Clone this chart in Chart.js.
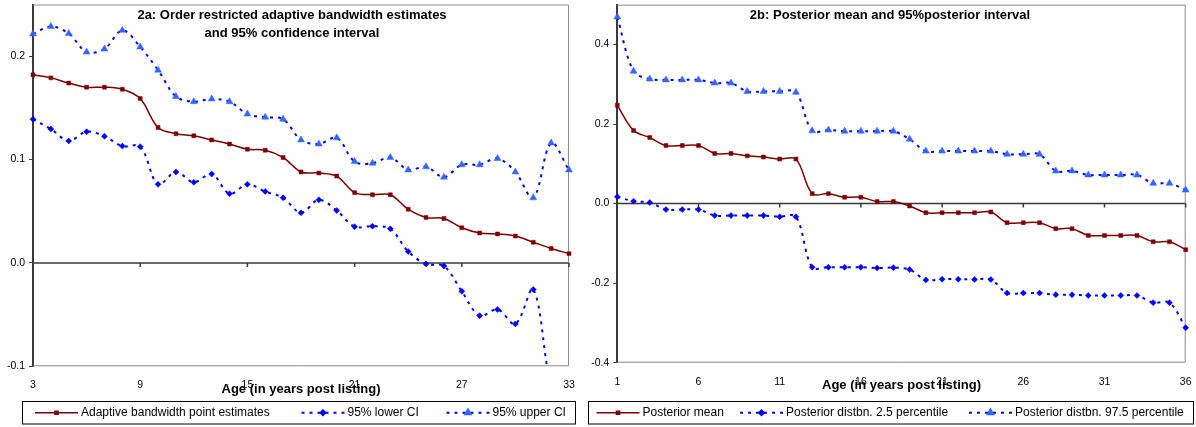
<!DOCTYPE html>
<html lang="pt">
<head>
<meta charset="utf-8">
<title>Figura 2</title>
<script src="https://cdn.jsdelivr.net/npm/chart.js@4.4.1/dist/chart.umd.min.js"></script>
<style>
  body { margin: 0; background: #fff; }
  .painel { position: absolute; top: 0; height: 427px; }
  #painelA { left: 0; width: 585px; }
  #painelB { left: 585px; width: 611px; }
</style>
</head>
<body>
<div class="painel" id="painelA"><canvas id="grafico2a"></canvas></div>
<div class="painel" id="painelB"><canvas id="grafico2b"></canvas></div>
<script>
// Dados (painel 2a)
const idades2a = [3, 4, 5, 6, 7, 8, 9, 10, 11, 12, 13, 14, 15, 16, 17, 18, 19, 20, 21, 22, 23, 24, 25, 26, 27, 28, 29, 30, 31, 32, 33];
const estimativas2a = [0.182, 0.179, 0.174, 0.170, 0.170, 0.168, 0.159, 0.131, 0.125, 0.123, 0.119, 0.115, 0.110, 0.109, 0.102, 0.088, 0.087, 0.084, 0.068, 0.066, 0.066, 0.052, 0.044, 0.043, 0.034, 0.029, 0.028, 0.026, 0.020, 0.014, 0.009];
const ciInferior2a = [0.139, 0.1295, 0.118, 0.127, 0.1225, 0.113, 0.1125, 0.076, 0.088, 0.078, 0.086, 0.067, 0.076, 0.069, 0.063, 0.0485, 0.061, 0.0507, 0.035, 0.0356, 0.033, 0.011, -0.001, -0.003, -0.0275, -0.051, -0.045, -0.059, -0.0256, -0.12, -0.16];
const ciSuperior2a = [0.2215, 0.2286, 0.222, 0.204, 0.207, 0.225, 0.209, 0.1865, 0.161, 0.156, 0.1587, 0.156, 0.144, 0.141, 0.139, 0.119, 0.115, 0.121, 0.098, 0.0965, 0.102, 0.090, 0.093, 0.083, 0.095, 0.095, 0.101, 0.088, 0.063, 0.116, 0.090];
const marcasX2a = [3, 9, 15, 21, 27, 33];

// Dados (painel 2b)
const idades2b = [1, 2, 3, 4, 5, 6, 7, 8, 9, 10, 11, 12, 13, 14, 15, 16, 17, 18, 19, 20, 21, 22, 23, 24, 25, 26, 27, 28, 29, 30, 31, 32, 33, 34, 35, 36];
const mediaPosterior = [0.247, 0.184, 0.166, 0.146, 0.146, 0.146, 0.126, 0.126, 0.120, 0.117, 0.112, 0.112, 0.025, 0.025, 0.016, 0.016, 0.005, 0.005, -0.006, -0.023, -0.023, -0.023, -0.023, -0.021, -0.048, -0.048, -0.048, -0.063, -0.063, -0.080, -0.080, -0.080, -0.080, -0.096, -0.096, -0.116];
const percentil2_5 = [0.017, 0.006, 0.0025, -0.015, -0.015, -0.015, -0.030, -0.030, -0.030, -0.030, -0.033, -0.033, -0.160, -0.160, -0.160, -0.160, -0.162, -0.161, -0.166, -0.192, -0.190, -0.190, -0.191, -0.191, -0.225, -0.225, -0.225, -0.229, -0.229, -0.231, -0.231, -0.231, -0.231, -0.249, -0.249, -0.312];
const percentil97_5 = [0.469, 0.333, 0.313, 0.311, 0.311, 0.311, 0.303, 0.303, 0.282, 0.282, 0.282, 0.280, 0.183, 0.185, 0.182, 0.182, 0.182, 0.182, 0.162, 0.132, 0.132, 0.132, 0.132, 0.132, 0.124, 0.124, 0.124, 0.082, 0.082, 0.072, 0.072, 0.072, 0.072, 0.051, 0.051, 0.034];
const marcasX2b = [1, 6, 11, 16, 21, 26, 31, 36];

const fonte = "'Liberation Sans', Arial, sans-serif";
Chart.defaults.font.family = fonte;
Chart.defaults.color = "#000";

// Moldura, linha do zero e marcas sobre ela
const moldura = {
  id: "moldura",
  beforeDatasetsDraw(chart, args, opts) {
    const { ctx, chartArea: a, scales: { x, y } } = chart;
    ctx.save();
    ctx.strokeStyle = "#8c8c8c";
    ctx.lineWidth = 1;
    ctx.beginPath();
    ctx.moveTo(a.left, a.top + 0.5);
    ctx.lineTo(a.right - 0.5, a.top + 0.5);
    ctx.lineTo(a.right - 0.5, a.bottom - 0.5);
    ctx.lineTo(a.left, a.bottom - 0.5);
    ctx.stroke();

    const y0 = y.getPixelForValue(0);
    ctx.strokeStyle = "#3a3a3a";
    ctx.lineWidth = 1.5;
    ctx.beginPath();
    ctx.moveTo(a.left, y0);
    ctx.lineTo(a.right, y0);
    chart.data.labels.forEach(function (lab, i) {
      if (i > 0 && opts.marcas.includes(lab)) {
        const px = x.getPixelForValue(i);
        ctx.moveTo(px, y0);
        ctx.lineTo(px, y0 + 4);
      }
    });
    ctx.stroke();
    ctx.restore();
  },
  afterDraw(chart, args, opts) {
    const { ctx } = chart;
    ctx.save();
    // titulo dentro da area do grafico
    ctx.font = "bold 13px " + fonte;
    ctx.fillStyle = "#000";
    ctx.textAlign = "center";
    ctx.textBaseline = "middle";
    opts.titulo.forEach(function (linha, i) {
      ctx.fillText(linha, opts.tituloX, 15 + i * 18);
    });

    // legenda em caixa
    const c = opts.caixa;
    ctx.strokeStyle = "#000";
    ctx.lineWidth = 1;
    ctx.strokeRect(c[0] + 0.5, c[1] + 0.5, c[2], c[3]);
    const ly = c[1] + c[3] / 2 + 0.5;
    ctx.font = "12px " + fonte;
    ctx.textAlign = "left";
    chart.data.datasets.forEach(function (ds, i) {
      const x0 = opts.itens[i];
      ctx.strokeStyle = ds.borderColor;
      ctx.lineWidth = ds.borderWidth;
      ctx.setLineDash(ds.borderDash || []);
      ctx.beginPath();
      ctx.moveTo(x0, ly);
      ctx.lineTo(x0 + 43, ly);
      ctx.stroke();
      ctx.setLineDash([]);
      ctx.fillStyle = ds.pointBackgroundColor;
      ctx.strokeStyle = ds.pointBackgroundColor;
      Chart.helpers.drawPoint(ctx, {
        pointStyle: ds.pointStyle,
        radius: ds.pointRadius * 0.8,
        rotation: 0,
        borderWidth: 1
      }, x0 + 21.5, ly);
      ctx.fillStyle = "#000";
      ctx.fillText(ds.label, x0 + 46, ly);
    });
    ctx.restore();
  }
};

function criarGrafico(id, cfg) {
  const ctx = document.getElementById(id).getContext("2d");
  return new Chart(ctx, {
    type: "line",
    data: {
      labels: cfg.idades,
      datasets: [{
        label: cfg.nomes[0],
        data: cfg.series[0],
        borderColor: "#800000",
        borderWidth: 1.5,
        pointStyle: "rect",
        pointRadius: 2.8,
        pointBackgroundColor: "#800000",
        pointBorderColor: "#800000",
        pointBorderWidth: 0.5,
        tension: 0.35
      }, {
        label: cfg.nomes[1],
        data: cfg.series[1],
        borderColor: "#0000ff",
        borderWidth: 2,
        borderDash: [3, 5],
        pointStyle: "rectRot",
        pointRadius: 3,
        pointBackgroundColor: "#0000ff",
        pointBorderColor: "#0000ff",
        pointBorderWidth: 0.5,
        tension: 0.35
      }, {
        label: cfg.nomes[2],
        data: cfg.series[2],
        borderColor: "#0000ff",
        borderWidth: 2,
        borderDash: [3, 5],
        pointStyle: "triangle",
        pointRadius: 4,
        pointBackgroundColor: "#3366ff",
        pointBorderColor: "#3366ff",
        pointBorderWidth: 0.5,
        tension: 0.35
      }]
    },
    options: {
      responsive: true,
      maintainAspectRatio: false,
      animation: false,
      layout: { padding: cfg.padding },
      plugins: {
        legend: { display: false },
        tooltip: { enabled: false },
        moldura: {
          marcas: cfg.marcas,
          titulo: cfg.titulo,
          tituloX: cfg.tituloX,
          caixa: cfg.caixa,
          itens: cfg.itens
        }
      },
      scales: {
        x: {
          grid: { display: false },
          border: { display: false },
          ticks: {
            autoSkip: false,
            maxRotation: 0,
            padding: 5,
            font: { size: 10.5 },
            callback: function (val) {
              const lab = this.getLabelForValue(val);
              return cfg.marcas.includes(lab) ? String(lab) : null;
            }
          },
          title: {
            display: true,
            text: "Age (in years post listing)",
            font: { size: 13, weight: "bold" },
            padding: 0
          },
          afterFit: function (s) {
            s.height = 30.7;
            s.paddingLeft = 0;
            s.paddingRight = 0;
          }
        },
        y: {
          min: cfg.yMin,
          max: cfg.yMax,
          grid: { drawOnChartArea: false, drawTicks: true, tickLength: 4, color: "#3a3a3a" },
          border: { display: true, color: "#3a3a3a", width: 2 },
          ticks: {
            stepSize: cfg.yPasso,
            padding: 4,
            font: { size: 10.5 },
            callback: function (v) {
              const r = Math.round(v / cfg.yPasso);
              if (Math.abs(v - r * cfg.yPasso) > 1e-9) return null;
              return (Math.abs(v) < 1e-9 ? 0 : v).toFixed(1);
            }
          },
          afterFit: function (s) {
            s.width = cfg.yLargura;
            s.paddingTop = 0;
            s.paddingBottom = 0;
          }
        }
      }
    },
    plugins: [moldura]
  });
}

document.addEventListener("DOMContentLoaded", function () {
  criarGrafico("grafico2a", {
    idades: idades2a,
    series: [estimativas2a, ciInferior2a, ciSuperior2a],
    nomes: ["Adaptive bandwidth point estimates", "95% lower CI", "95% upper CI"],
    marcas: marcasX2a,
    yMin: -0.1, yMax: 0.25, yPasso: 0.1, yLargura: 33,
    padding: { top: 3, right: 16, bottom: 30, left: 0 },
    titulo: ["2a: Order restricted adaptive bandwidth estimates", "and 95% confidence interval"],
    tituloX: 292,
    caixa: [22, 401, 553, 22.5],
    itens: [35, 301.5, 446.5]
  });

  criarGrafico("grafico2b", {
    idades: idades2b,
    series: [mediaPosterior, percentil2_5, percentil97_5],
    nomes: ["Posterior mean", "Posterior distbn. 2.5 percentile", "Posterior distbn. 97.5 percentile"],
    marcas: marcasX2b,
    yMin: -0.4, yMax: 0.5, yPasso: 0.2, yLargura: 32.3,
    padding: { top: 4.7, right: 10.3, bottom: 33.6, left: 0 },
    titulo: ["2b: Posterior mean and 95%posterior interval"],
    tituloX: 305,
    caixa: [3, 401, 605, 22.5],
    itens: [11.5, 155, 384]
  });
});
</script>
</body>
</html>
